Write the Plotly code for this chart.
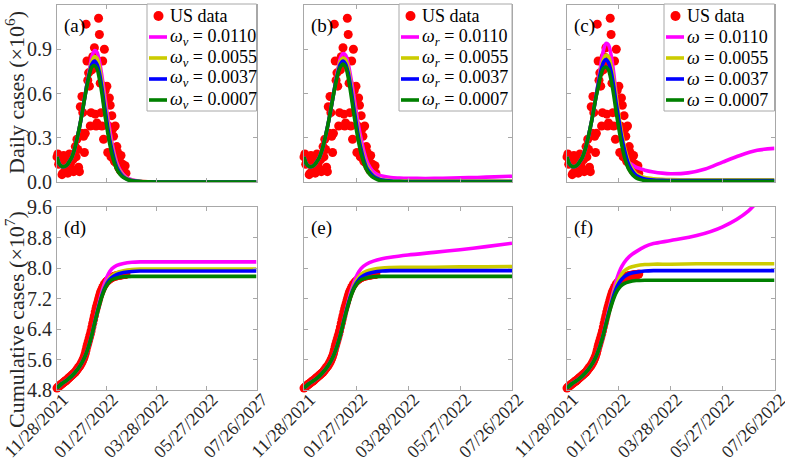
import numpy as np
import plotly.graph_objects as go

# ---------------- data ----------------
tick_days = [0, 60, 120, 180, 240]
tick_labels = ["11/28/2021", "01/27/2022", "03/28/2022", "05/27/2022", "07/26/2022"]
tick_labels_d = ["11/28/2021", "01/27/2022", "03/28/2022", "05/27/2022", "07/26/2027"]

daily_ticks = [0.0, 0.3, 0.6, 0.9, 1.2]
daily_tick_text = ["0.0", "0.3", "0.6", "0.9", "1.2"]
cum_ticks = [4.8, 5.6, 6.4, 7.2, 8.0, 8.8, 9.6]
cum_tick_text = ["4.8", "5.6", "6.4", "7.2", "8.0", "8.8", "9.6"]

# US daily cases (x10^6), one value per day starting 11/28/2021
us_daily = [
    0.17, 0.19, 0.12, 0.14, 0.16, 0.13, 0.05,
    0.06, 0.18, 0.11, 0.15, 0.17, 0.14, 0.06,
    0.07, 0.19, 0.12, 0.16, 0.18, 0.15, 0.07,
    0.08, 0.24, 0.17, 0.29, 0.22, 0.10, 0.07,
    0.51, 0.33, 0.58, 0.47, 0.31, 0.20, 0.33,
    1.07, 0.82, 0.69, 0.74, 0.65, 0.38, 0.47,
    0.76, 0.85, 0.79, 0.91, 0.46, 0.38, 0.40,
    0.82, 1.11, 1.00, 0.67, 0.47, 0.38, 0.82,
    0.29, 0.90, 0.62, 0.55, 0.65, 0.20, 0.38,
    0.57, 0.52, 0.17, 0.45, 0.36, 0.31, 0.14,
    0.38, 0.13, 0.24, 0.20, 0.10, 0.16, 0.08,
    0.18, 0.07, 0.12, 0.10, 0.05, 0.11, 0.06,
]
# US cumulative cases (x10^7), one value per day starting 11/28/2021
us_cum = [
    4.85, 4.87, 4.89, 4.91, 4.93, 4.95, 4.96, 4.98, 5.00, 5.02, 5.03, 5.05, 5.07, 5.09,
    5.11, 5.13, 5.15, 5.17, 5.19, 5.21, 5.23, 5.25, 5.27, 5.30, 5.33, 5.36, 5.39, 5.42,
    5.45, 5.49, 5.53, 5.58, 5.63, 5.69, 5.76, 5.85, 5.94, 6.02, 6.10, 6.18, 6.26, 6.35,
    6.45, 6.55, 6.65, 6.75, 6.85, 6.94, 7.02, 7.10, 7.18, 7.26, 7.33, 7.39, 7.44, 7.49,
    7.53, 7.57, 7.60, 7.63, 7.65, 7.67, 7.69, 7.71, 7.72, 7.74, 7.75, 7.76, 7.77, 7.78,
    7.79, 7.79, 7.80, 7.80, 7.81, 7.81, 7.81, 7.82, 7.82, 7.82, 7.83, 7.83, 7.83, 7.84,
]

# model daily curves (x10^6) at sample days
model_days = [0, 3, 6, 9, 12, 15, 18, 21, 24, 27, 30, 33, 36, 39, 42, 45, 48, 51, 54, 57,
              60, 63, 66, 69, 72, 76, 80, 85, 90, 100, 110, 120, 140, 160, 180, 200, 220, 240]
early = [0.17, 0.12, 0.105, 0.105, 0.115, 0.14, 0.17, 0.22, 0.29, 0.37, 0.46, 0.56]

a_mag = early + [0.66, 0.76, 0.85, 0.89, 0.88, 0.82, 0.72, 0.60, 0.48, 0.37, 0.27, 0.19, 0.13, 0.08, 0.05, 0.027, 0.015, 0.005, 0.002, 0.001, 0, 0, 0, 0, 0, 0]
a_yel = early + [0.66, 0.75, 0.82, 0.85, 0.84, 0.78, 0.68, 0.56, 0.44, 0.33, 0.24, 0.17, 0.11, 0.07, 0.04, 0.022, 0.012, 0.004, 0.001, 0, 0, 0, 0, 0, 0, 0]
a_blu = early + [0.66, 0.74, 0.80, 0.82, 0.80, 0.74, 0.64, 0.52, 0.41, 0.30, 0.22, 0.15, 0.10, 0.06, 0.035, 0.018, 0.01, 0.003, 0.001, 0, 0, 0, 0, 0, 0, 0]
a_grn = early + [0.65, 0.73, 0.78, 0.79, 0.77, 0.70, 0.60, 0.48, 0.37, 0.27, 0.19, 0.13, 0.085, 0.05, 0.03, 0.015, 0.008, 0.003, 0.001, 0, 0, 0, 0, 0, 0, 0]

b_mag = early + [0.66, 0.76, 0.84, 0.87, 0.86, 0.80, 0.71, 0.60, 0.49, 0.38, 0.29, 0.21, 0.15, 0.10, 0.07, 0.05, 0.04, 0.03, 0.027, 0.025, 0.024, 0.025, 0.028, 0.031, 0.035, 0.039]
b_yel = early + [0.66, 0.75, 0.82, 0.84, 0.83, 0.77, 0.67, 0.55, 0.44, 0.33, 0.24, 0.17, 0.115, 0.075, 0.045, 0.027, 0.017, 0.01, 0.008, 0.007, 0.006, 0.006, 0.006, 0.006, 0.006, 0.006]
b_blu = early + [0.66, 0.74, 0.80, 0.82, 0.80, 0.74, 0.64, 0.52, 0.41, 0.30, 0.22, 0.15, 0.10, 0.065, 0.04, 0.022, 0.013, 0.006, 0.004, 0.003, 0.003, 0.003, 0.003, 0.003, 0.003, 0.003]
b_grn = early + [0.65, 0.73, 0.78, 0.80, 0.78, 0.71, 0.60, 0.48, 0.37, 0.27, 0.19, 0.13, 0.085, 0.05, 0.03, 0.015, 0.008, 0.003, 0.001, 0, 0, 0, 0, 0, 0, 0]

c_mag = early + [0.67, 0.79, 0.89, 0.94, 0.93, 0.86, 0.74, 0.58, 0.42, 0.29, 0.20, 0.15, 0.13, 0.115, 0.10, 0.09, 0.08, 0.068, 0.06, 0.056, 0.062, 0.088, 0.135, 0.18, 0.215, 0.228]
c_yel = early + [0.66, 0.76, 0.83, 0.86, 0.85, 0.79, 0.69, 0.57, 0.45, 0.34, 0.25, 0.18, 0.125, 0.085, 0.055, 0.04, 0.03, 0.022, 0.018, 0.016, 0.015, 0.015, 0.015, 0.015, 0.015, 0.015]
c_blu = early + [0.66, 0.75, 0.81, 0.83, 0.81, 0.75, 0.65, 0.53, 0.42, 0.31, 0.23, 0.16, 0.11, 0.07, 0.045, 0.03, 0.02, 0.013, 0.011, 0.01, 0.01, 0.01, 0.01, 0.01, 0.01, 0.01]
c_grn = early + [0.64, 0.72, 0.77, 0.78, 0.76, 0.69, 0.59, 0.47, 0.36, 0.26, 0.18, 0.12, 0.08, 0.048, 0.028, 0.016, 0.01, 0.006, 0.005, 0.005, 0.005, 0.005, 0.005, 0.005, 0.005, 0.005]

# model cumulative curves (x10^7) at sample days
cum_days = [0, 6, 12, 18, 24, 30, 34, 38, 42, 46, 50, 54, 58, 62, 66, 72, 80, 90, 100, 120, 150, 180, 210, 240]
cum_early = [4.85, 4.97, 5.06, 5.17, 5.32, 5.52, 5.70, 5.94, 6.25]

d_mag = cum_early + [6.64, 7.02, 7.38, 7.65, 7.85, 7.98, 8.07, 8.12, 8.15, 8.16, 8.16, 8.16, 8.16, 8.16, 8.16]
d_yel = cum_early + [6.62, 6.98, 7.30, 7.54, 7.70, 7.80, 7.88, 7.93, 7.96, 7.97, 7.97, 7.97, 7.97, 7.97, 7.97]
d_blu = cum_early + [6.62, 6.97, 7.28, 7.51, 7.66, 7.75, 7.83, 7.88, 7.91, 7.92, 7.92, 7.92, 7.92, 7.92, 7.92]
d_grn = cum_early + [6.62, 6.95, 7.25, 7.47, 7.61, 7.69, 7.74, 7.77, 7.78, 7.78, 7.78, 7.78, 7.78, 7.78, 7.78]

e_mag = cum_early + [6.64, 7.02, 7.38, 7.65, 7.85, 7.99, 8.10, 8.18, 8.24, 8.28, 8.34, 8.41, 8.48, 8.56, 8.65]
e_yel = cum_early + [6.62, 6.98, 7.31, 7.56, 7.73, 7.84, 7.92, 7.97, 8.00, 8.01, 8.02, 8.02, 8.03, 8.03, 8.04]
e_blu = cum_early + [6.62, 6.97, 7.28, 7.51, 7.66, 7.76, 7.84, 7.89, 7.92, 7.93, 7.93, 7.93, 7.93, 7.93, 7.93]
e_grn = cum_early + [6.62, 6.95, 7.25, 7.47, 7.61, 7.69, 7.74, 7.77, 7.78, 7.78, 7.78, 7.78, 7.78, 7.78, 7.78]

f_mag = cum_early + [6.66, 7.05, 7.42, 7.74, 7.98, 8.14, 8.30, 8.43, 8.56, 8.64, 8.72, 8.85, 9.08, 9.50, 10.3]
f_yel = cum_early + [6.63, 7.00, 7.34, 7.61, 7.80, 7.92, 8.01, 8.06, 8.09, 8.10, 8.10, 8.11, 8.11, 8.11, 8.11]
f_blu = cum_early + [6.62, 6.97, 7.28, 7.52, 7.67, 7.77, 7.85, 7.89, 7.92, 7.93, 7.93, 7.93, 7.93, 7.93, 7.93]
f_grn = cum_early + [6.60, 6.92, 7.20, 7.40, 7.52, 7.59, 7.64, 7.67, 7.68, 7.68, 7.68, 7.68, 7.68, 7.68, 7.68]

omega_vals = ["0.0110", "0.0055", "0.0037", "0.0007"]
omega_names = ["<i>ω<sub>v</sub></i>", "<i>ω<sub>r</sub></i>", "<i>ω</i>"]
panel_labels = ["(a)", "(b)", "(c)", "(d)", "(e)", "(f)"]

# ---------------- style ----------------
W, H = 785, 467
FONT = "Liberation Serif"
colors = ["#ff00ff", "#cccc00", "#0000ff", "#008000"]
red = "#ff0000"
frame = "#a8a8a8"
txt = "#262626"

cols = [(57, 256.5), (304, 512), (567, 774.5)]
rows = [(5, 182), (207, 390)]
legend_left = [147, 399, 664]
legend_rows = [16, 37, 58, 79, 100]


def fx(p):
    return p / W


def fy(p):
    return 1 - p / H


us_days = list(range(len(us_daily)))

daily_models = [[a_mag, a_yel, a_blu, a_grn], [b_mag, b_yel, b_blu, b_grn], [c_mag, c_yel, c_blu, c_grn]]
cum_models = [[d_mag, d_yel, d_blu, d_grn], [e_mag, e_yel, e_blu, e_grn], [f_mag, f_yel, f_blu, f_grn]]

fig = go.Figure()
layout = {}
annotations = []
shapes = []

for r in range(2):
    for c in range(3):
        i = r * 3 + c + 1
        xa = "x" if i == 1 else f"x{i}"
        ya = "y" if i == 1 else f"y{i}"
        x0, x1 = cols[c]
        y0, y1 = rows[r]
        ydata = us_daily if r == 0 else us_cum
        fig.add_trace(go.Scatter(
            x=us_days, y=ydata, mode="markers", name="US data",
            marker=dict(color=red, size=9), xaxis=xa, yaxis=ya,
            showlegend=False, cliponaxis=False))
        models = daily_models[c] if r == 0 else cum_models[c]
        mdays = model_days if r == 0 else cum_days
        for k in range(4):
            fig.add_trace(go.Scatter(
                x=mdays, y=models[k], mode="lines",
                line=dict(color=colors[k], width=3.6, shape="spline", smoothing=0.8),
                name=f"{omega_names[c]} = {omega_vals[k]}",
                xaxis=xa, yaxis=ya, showlegend=False))

        xkey = "xaxis" if i == 1 else f"xaxis{i}"
        ykey = "yaxis" if i == 1 else f"yaxis{i}"
        layout[xkey] = dict(
            domain=[fx(x0), fx(x1)], anchor=ya, range=[0, 240],
            tickvals=tick_days, ticktext=(tick_labels_d if i == 4 else tick_labels),
            showticklabels=(r == 1), tickangle=-45,
            ticklabelstandoff=-9, ticklabelshift=6, ticklabeloverflow="allow",
            ticks="inside", ticklen=4, tickcolor=frame, tickwidth=1,
            showline=True, linecolor=frame, linewidth=1, mirror="ticks",
            showgrid=False, zeroline=False, automargin=False,
            tickfont=dict(family=FONT, size=18, color=txt))
        layout[ykey] = dict(
            domain=[fy(y1), fy(y0)], anchor=xa,
            range=[0, 1.2] if r == 0 else [4.8, 9.6],
            tickvals=daily_ticks if r == 0 else cum_ticks,
            ticktext=daily_tick_text if r == 0 else cum_tick_text,
            showticklabels=(c == 0),
            ticks="inside", ticklen=4, tickcolor=frame, tickwidth=1,
            showline=True, linecolor=frame, linewidth=1, mirror="ticks",
            showgrid=False, zeroline=False, automargin=False,
            tickfont=dict(family=FONT, size=20, color=txt))
        annotations.append(dict(
            text=panel_labels[i - 1], x=fx(x0 + 5), y=fy(y0 + 8),
            xref="paper", yref="paper", xanchor="left", yanchor="top",
            showarrow=False, font=dict(family=FONT, size=19, color="#000000")))

# custom legends (top row)
for c in range(3):
    L = legend_left[c]
    R = cols[c][1]
    shapes.append(dict(type="rect", xref="paper", yref="paper",
                       x0=fx(L), x1=fx(R), y0=fy(111), y1=fy(4),
                       line=dict(color=frame, width=1), fillcolor="white", layer="above"))
    cy = legend_rows[0]
    shapes.append(dict(type="circle", xref="paper", yref="paper",
                       x0=fx(L + 6.5), x1=fx(L + 16.5), y0=fy(cy + 5), y1=fy(cy - 5),
                       line=dict(color=red, width=0), fillcolor=red, layer="above"))
    annotations.append(dict(text="US data", x=fx(L + 21), y=fy(cy), xref="paper", yref="paper",
                            xanchor="left", yanchor="middle", showarrow=False,
                            font=dict(family=FONT, size=18, color="#000000")))
    for k in range(4):
        cy = legend_rows[k + 1]
        shapes.append(dict(type="line", xref="paper", yref="paper",
                           x0=fx(L + 2), x1=fx(L + 20), y0=fy(cy), y1=fy(cy),
                           line=dict(color=colors[k], width=3.6), layer="above"))
        annotations.append(dict(text=f"{omega_names[c]} = {omega_vals[k]}",
                                x=fx(L + 21), y=fy(cy), xref="paper", yref="paper",
                                xanchor="left", yanchor="middle", showarrow=False,
                                font=dict(family=FONT, size=18, color="#000000")))

annotations.append(dict(
    text="Daily cases (×10<sup>6</sup>)", x=fx(15), y=fy(93), xref="paper", yref="paper",
    textangle=-90, showarrow=False, xanchor="center", yanchor="middle",
    font=dict(family=FONT, size=22, color=txt)))
annotations.append(dict(
    text="Cumulative cases (×10<sup>7</sup>)", x=fx(15), y=fy(320), xref="paper", yref="paper",
    textangle=-90, showarrow=False, xanchor="center", yanchor="middle",
    font=dict(family=FONT, size=22, color=txt)))

fig.update_layout(
    width=W, height=H, margin=dict(l=0, r=0, t=0, b=0),
    paper_bgcolor="white", plot_bgcolor="white", showlegend=False,
    annotations=annotations, shapes=shapes, **layout)

fig.write_html("out.html", config={"displayModeBar": False},
               post_script="document.body.style.margin='0';")
